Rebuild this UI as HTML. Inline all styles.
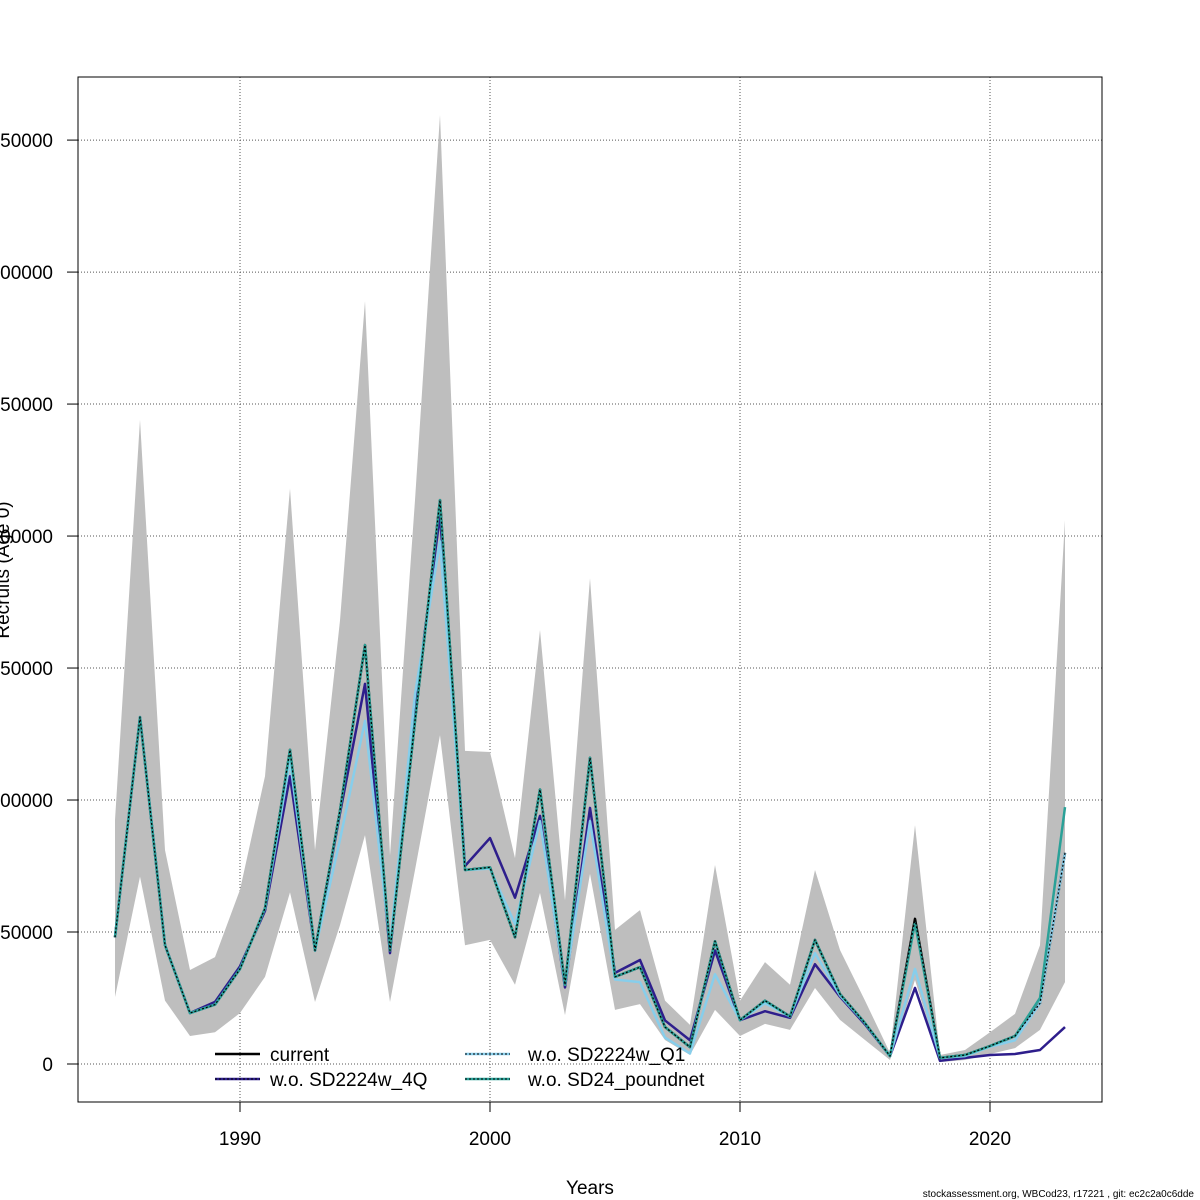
<!DOCTYPE html>
<html><head><meta charset="utf-8"><style>
html,body{margin:0;padding:0;background:#fff;}
svg{display:block;font-family:"Liberation Sans",sans-serif;}
</style></head><body>
<svg id="chart" width="1200" height="1200" viewBox="0 0 1200 1200" xmlns="http://www.w3.org/2000/svg">
<g id="grid"></g>
<g id="band"></g>
<g id="series"></g>
<rect x="78" y="77" width="1024" height="1025" fill="none" stroke="#000" stroke-width="1"/>
<g id="axes"></g>
<text x="590" y="1194" font-size="19" text-anchor="middle">Years</text>
<text transform="translate(9,570) rotate(-90)" font-size="19" text-anchor="middle">Recruits (Age 0)</text>
<text x="1194" y="1197" font-size="10" text-anchor="end">stockassessment.org, WBCod23, r17221 , git: ec2c2a0c6dde</text>
<g font-size="19">
<g>
<line x1="215" y1="1054" x2="260" y2="1054" stroke="#000" stroke-width="2.5"/>
<text x="270" y="1061">current</text></g>
<g>
<line x1="215" y1="1079" x2="260" y2="1079" stroke="#2e1e8c" stroke-width="2.5"/>
<line x1="215" y1="1079" x2="260" y2="1079" stroke="#000" stroke-width="1" stroke-dasharray="2,2"/>
<text x="270" y="1086">w.o. SD2224w_4Q</text></g>
<g>
<line x1="465" y1="1054" x2="510" y2="1054" stroke="#87ceeb" stroke-width="2.5"/>
<line x1="465" y1="1054" x2="510" y2="1054" stroke="#000" stroke-width="1" stroke-dasharray="2,2"/>
<text x="528" y="1061">w.o. SD2224w_Q1</text></g>
<g>
<line x1="465" y1="1079" x2="510" y2="1079" stroke="#2aa198" stroke-width="2.5"/>
<line x1="465" y1="1079" x2="510" y2="1079" stroke="#000" stroke-width="1" stroke-dasharray="2,2"/>
<text x="528" y="1086">w.o. SD24_poundnet</text></g>
</g>
</svg>
<script>
const years=[1985,1986,1987,1988,1989,1990,1991,1992,1993,1994,1995,1996,1997,1998,1999,2000,2001,2002,2003,2004,2005,2006,2007,2008,2009,2010,2011,2012,2013,2014,2015,2016,2017,2018,2019,2020,2021,2022,2023];
const poundnet=[48000,131400,45000,19300,22500,36000,59000,119000,43000,96000,158700,43000,130000,213600,73500,74500,48000,104000,30000,116000,33000,36700,14000,6400,46500,16600,24000,18000,47000,26500,15500,3000,53400,2300,3400,6800,10600,25000,97300];
const current=[48000,131400,45000,19300,22500,36000,59000,119000,43000,96000,158700,43000,130000,213600,73500,74500,48000,104000,30000,116000,33000,36700,14000,6400,46500,16600,24000,18000,47000,26500,15500,3000,55000,2300,3400,6800,10600,23000,80000];
const without4Q=[48000,131400,45000,19300,23500,37000,58000,109000,43000,95000,144000,42000,135000,208000,75000,85600,63000,94000,29000,97000,34500,39400,16500,9000,43000,16600,20000,17500,37800,25500,15000,3000,28800,1200,2300,3400,3800,5300,14000];
const withoutQ1=[48000,131400,45000,19300,22500,36000,59000,115000,43000,85000,130000,45000,140000,198000,73500,74000,53000,92000,30000,92000,32000,31000,10000,4000,34000,16600,23000,18000,42000,26000,15500,3000,36000,2300,3000,6500,9000,23000,80000];
const bandHigh=[92400,244000,81000,35600,40500,66000,109000,218000,81000,168000,289000,79000,213600,359500,118600,118200,78000,164400,62000,184000,50800,58300,24000,14800,75400,24000,38600,30000,73500,43200,24000,4200,90500,3400,5300,12000,19000,45000,206000];
const bandLow=[25400,71000,24000,10600,12000,19300,33000,65000,23500,52600,86700,23500,73500,124600,45000,47000,30000,64800,18500,72000,20500,22700,9100,3400,20500,10600,15200,12900,28800,16700,9100,1500,31800,700,1500,3800,6000,12900,31000];
const xTicks=[1990,2000,2010,2020];
const yTicks=[0,50000,100000,150000,200000,250000,300000,350000];
const yTickLabels=["0","50000","100000","150000","200000","250000","300000","350000"];

const NS="http://www.w3.org/2000/svg";
const X0=78,X1=1102,Y0=77,Y1=1102;
const xmin=1983.52,xmax=2024.48,ymin=-14400,ymax=373900;
function sx(v){return X0+(v-xmin)/(xmax-xmin)*(X1-X0);}
function sy(v){return Y1-(v-ymin)/(ymax-ymin)*(Y1-Y0);}
function mk(tag,attrs,parent){const e=document.createElementNS(NS,tag);for(const k in attrs)e.setAttribute(k,attrs[k]);parent.appendChild(e);return e;}
const grid=document.getElementById('grid'),axes=document.getElementById('axes');
xTicks.forEach(t=>{
  const g=mk('line',{x1:sx(t),x2:sx(t),y1:Y0,y2:Y1,stroke:'#555','stroke-width':1,'stroke-dasharray':'1,2'},grid);
  
  
  const tk=mk('line',{x1:sx(t),x2:sx(t),y1:Y1,y2:Y1+10,stroke:'#000'},axes);
  
  
  const tx=mk('text',{x:sx(t),y:1145,'font-size':19,'text-anchor':'middle'},axes);
  tx.textContent=t;
  
  
});
yTicks.forEach((t,i)=>{
  const g=mk('line',{x1:X0,x2:X1,y1:sy(t),y2:sy(t),stroke:'#555','stroke-width':1,'stroke-dasharray':'1,2'},grid);
  
  
  const tk=mk('line',{x1:X0-11,x2:X0,y1:sy(t),y2:sy(t),stroke:'#000'},axes);
  
  
  const tx=mk('text',{x:53,y:sy(t)+7,'font-size':19,'text-anchor':'end'},axes);
  tx.textContent=yTickLabels[i];
  
  
});
let pts=years.map((y,i)=>sx(y)+','+sy(bandHigh[i]));
for(let i=years.length-1;i>=0;i--)pts.push(sx(years[i])+','+sy(bandLow[i]));
const poly=mk('polygon',{points:pts.join(' '),fill:'#bebebe',stroke:'none'},document.getElementById('band'));


const ser=document.getElementById('series');
function line(vals,color,w,dash,name){
  const p=mk('polyline',{points:years.map((y,i)=>sx(y)+','+sy(vals[i])).join(' '),fill:'none',stroke:color,'stroke-width':w,'stroke-linejoin':'round'},ser);
  if(dash)p.setAttribute('stroke-dasharray',dash);
  
  
}
line(current,'#000',2.5,null,'line-current');
line(without4Q,'#2e1e8c',2.5,null,'line-wo-sd2224w-4q');
line(withoutQ1,'#87ceeb',2.5,null,'line-wo-sd2224w-q1');
line(poundnet,'#2aa198',2.5,null,'line-wo-sd24-poundnet');
line(current,'#000',1.2,'2,2','line-current-overlay');
</script>
</body></html>
